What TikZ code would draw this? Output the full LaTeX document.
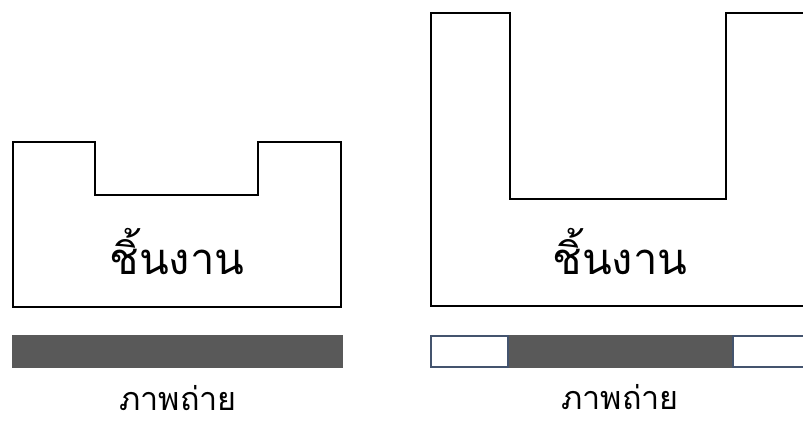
\documentclass[tikz,border=0pt]{standalone}
\usepackage{fontspec}
\newfontfamily\thaifont[Script=Thai]{Loma}
\definecolor{filmgray}{RGB}{89,89,89}
\definecolor{gapedge}{RGB}{68,84,110}
\tikzset{
  piece/.style = {draw, line width=1.9pt, line join=miter},
  film/.style = {fill=filmgray, draw=none},
  gap/.style = {fill=white, draw=gapedge, line width=1.4pt},
  partname/.style = {font=\thaifont\fontsize{31}{31}\selectfont},
  filmname/.style = {font=\thaifont\fontsize{23}{23}\selectfont}
}

\begin{document}
\begin{tikzpicture}[x=0.025cm, y=-0.025cm]
\useasboundingbox (0,0) rectangle (803,424);
\clip (0,0) rectangle (803,424);
% shallow slot
\draw[piece] (13,142) -- (95,142) -- (95,195) -- (258,195) -- (258,142)
  -- (341,142) -- (341,307) -- (13,307) -- cycle;
\fill[film] (12,335) rectangle (343,368);
\node[partname] (partA) at (177,252) {ชิ้นงาน};
\node[filmname] (filmA) at (178,398) {ภาพถ่าย};
% deep slot
\draw[piece] (431,13) -- (510,13) -- (510,199) -- (726,199) -- (726,13)
  -- (830,13) -- (830,306) -- (431,306) -- cycle;
\fill[film] (508,335) rectangle (733,368);
\draw[gap] (431,336) rectangle (508,367);
\draw[gap] (733,336) rectangle (830,367);
\node[partname] (partB) at (620,252) {ชิ้นงาน};
\node[filmname] (filmB) at (620,397) {ภาพถ่าย};
\end{tikzpicture}
\end{document}
